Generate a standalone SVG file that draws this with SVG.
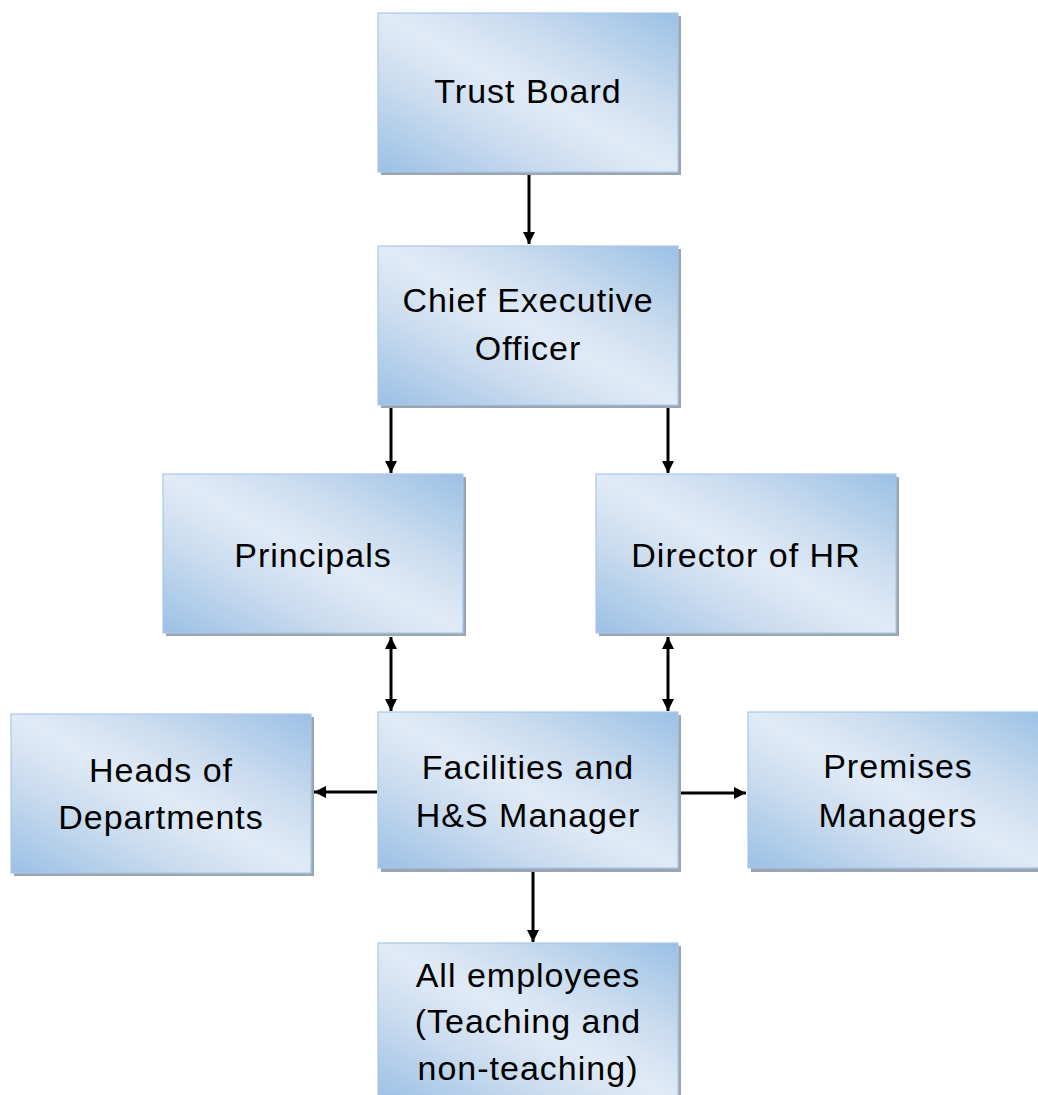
<svg xmlns="http://www.w3.org/2000/svg" width="1038" height="1095" viewBox="0 0 1038 1095">
  <style>
    .box { fill: url(#boxFill); stroke: #a9c8e8; stroke-width: 1.2; }
    .shadow { fill: #9ba5b1; }
    .label { font-family: "Liberation Sans", Arial, sans-serif; font-size: 34px; letter-spacing: 1px; fill: #000; text-anchor: middle; }
    .conn { stroke: #000; stroke-width: 3; fill: none; }
  </style>
  <defs>
    <linearGradient id="boxFill" x1="1" y1="0" x2="0" y2="1">
      <stop offset="0" stop-color="#9bc0e4"/>
      <stop offset="0.3" stop-color="#cadcef"/>
      <stop offset="0.5" stop-color="#e1ebf7"/>
      <stop offset="0.7" stop-color="#cadcef"/>
      <stop offset="1" stop-color="#9bc0e4"/>
    </linearGradient>
    <marker id="arrow" markerUnits="userSpaceOnUse" markerWidth="12" markerHeight="12" refX="10" refY="5" orient="auto-start-reverse" viewBox="0 0 10 10">
      <path d="M0,0 L10,5 L0,10 Z" fill="#000"/>
    </marker>
  </defs>

  <!-- connectors -->
  <g id="connectors">
    <line class="conn" x1="529" y1="175" x2="529" y2="244" marker-end="url(#arrow)"/>
    <line class="conn" x1="391" y1="408" x2="391" y2="473" marker-end="url(#arrow)"/>
    <line class="conn" x1="668" y1="408" x2="668" y2="473" marker-end="url(#arrow)"/>
    <line class="conn" x1="391" y1="637" x2="391" y2="711" marker-start="url(#arrow)" marker-end="url(#arrow)"/>
    <line class="conn" x1="668" y1="637" x2="668" y2="711" marker-start="url(#arrow)" marker-end="url(#arrow)"/>
    <line class="conn" x1="377" y1="792" x2="314" y2="792" marker-end="url(#arrow)"/>
    <line class="conn" x1="681" y1="793" x2="746" y2="793" marker-end="url(#arrow)"/>
    <line class="conn" x1="533" y1="871" x2="533" y2="942" marker-end="url(#arrow)"/>
  </g>

  <!-- nodes -->
  <g id="trust-board">
    <rect class="shadow" x="381" y="16" width="300" height="159"/>
    <rect class="box" x="378" y="13" width="300" height="159"/>
    <text class="label" x="528" y="103">Trust Board</text>
  </g>

  <g id="chief-executive">
    <rect class="shadow" x="381" y="249" width="300" height="159"/>
    <rect class="box" x="378" y="246" width="300" height="159"/>
    <text class="label" x="528" y="312">Chief Executive</text>
    <text class="label" x="528" y="360">Officer</text>
  </g>

  <g id="principals">
    <rect class="shadow" x="166" y="477" width="300" height="159"/>
    <rect class="box" x="163" y="474" width="300" height="159"/>
    <text class="label" x="313" y="567">Principals</text>
  </g>

  <g id="director-hr">
    <rect class="shadow" x="599" y="477" width="300" height="159"/>
    <rect class="box" x="596" y="474" width="300" height="159"/>
    <text class="label" x="746" y="567">Director of HR</text>
  </g>

  <g id="heads-of-departments">
    <rect class="shadow" x="14" y="717" width="300" height="159"/>
    <rect class="box" x="11" y="714" width="300" height="159"/>
    <text class="label" x="161" y="782">Heads of</text>
    <text class="label" x="161" y="829">Departments</text>
  </g>

  <g id="facilities-manager">
    <rect class="shadow" x="381" y="715" width="300" height="157"/>
    <rect class="box" x="378" y="712" width="300" height="156"/>
    <text class="label" x="528" y="779">Facilities and</text>
    <text class="label" x="528" y="827">H&amp;S Manager</text>
  </g>

  <g id="premises-managers">
    <rect class="shadow" x="751" y="715" width="300" height="157"/>
    <rect class="box" x="748" y="712" width="300" height="156"/>
    <text class="label" x="898" y="778">Premises</text>
    <text class="label" x="898" y="827">Managers</text>
  </g>

  <g id="all-employees">
    <rect class="shadow" x="381" y="946" width="300" height="159"/>
    <rect class="box" x="378" y="943" width="300" height="159"/>
    <text class="label" x="528" y="987">All employees</text>
    <text class="label" x="528" y="1033">(Teaching and</text>
    <text class="label" x="528" y="1080">non-teaching)</text>
  </g>
</svg>
